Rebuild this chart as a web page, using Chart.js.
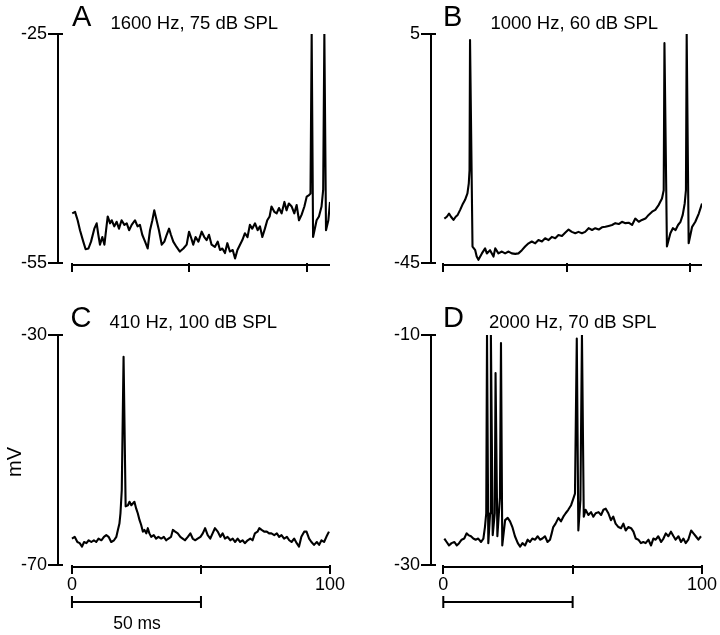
<!DOCTYPE html>
<html>
<head>
<meta charset="utf-8">
<script src="https://cdn.jsdelivr.net/npm/chart.js@4"></script>
<style>
  html, body { margin: 0; padding: 0; background: #fff; }
  #wrap { position: relative; width: 720px; height: 635px; background: #fff; overflow: hidden; }
  canvas { position: absolute; }
  .lbl { position: absolute; white-space: nowrap; line-height: 1; color: #000;
         font-family: 'Liberation Sans', Arial, Helvetica, sans-serif; }
  .letter { font-size: 29px; }
  .ttl { font-size: 18.5px; }
</style>
</head>
<body>
<div id="wrap">
  <canvas id="cA" width="360" height="300" style="left:0;top:0"></canvas>
  <canvas id="cB" width="360" height="300" style="left:360px;top:0"></canvas>
  <canvas id="cC" width="360" height="335" style="left:0;top:300px"></canvas>
  <canvas id="cD" width="360" height="335" style="left:360px;top:300px"></canvas>

  <div class="lbl letter" style="left:72px;top:1.5px">A</div>
  <div class="lbl ttl" style="left:110.5px;top:14px">1600 Hz, 75 dB SPL</div>
  <div class="lbl letter" style="left:443px;top:1.5px">B</div>
  <div class="lbl ttl" style="left:490.5px;top:14px">1000 Hz, 60 dB SPL</div>
  <div class="lbl letter" style="left:70.5px;top:302.5px">C</div>
  <div class="lbl ttl" style="left:109.5px;top:313px">410 Hz, 100 dB SPL</div>
  <div class="lbl letter" style="left:443px;top:302.5px">D</div>
  <div class="lbl ttl" style="left:489px;top:313px">2000 Hz, 70 dB SPL</div>

  <div class="lbl" style="left:14px;top:462px;font-size:20px;transform:translate(-50%,-50%) rotate(-90deg)">mV</div>
  <div class="lbl" style="left:137px;top:615px;font-size:17.5px;transform:translateX(-50%)">50 ms</div>
</div>
<script>
// ---------------- data (time in ms, membrane potential in mV) ----------------
const tA = [0.1,1.3,2.4,3.4,4.8,5.8,7.0,8.1,9.5,10.5,11.2,11.9,12.9,13.8,14.5,15.2,16.2,16.9,18.0,19.0,20.0,21.1,22.3,23.3,24.3,25.4,26.8,27.9,28.9,29.9,31.1,32.2,33.2,34.2,35.0,36.0,37.0,38.2,39.3,40.3,41.3,42.1,43.1,44.5,45.9,47.4,48.8,49.8,50.6,51.6,52.6,53.8,55.2,56.3,57.3,58.3,59.4,60.8,62.0,63.0,64.0,65.1,66.1,67.2,68.4,69.4,70.4,71.5,72.5,73.6,74.7,75.7,76.7,77.9,79.0,80.0,81.0,82.1,83.1,84.1,84.9,86.1,87.1,88.1,89.2,90.4,91.3,92.3,93.5,94.6,95.6,96.6,97.7,98.9,99.9,100.9,101.5,102.0,102.6,104.1,105.1,106.2,106.9,107.4,108.1,109.1,109.8];
const vA = [-48.5,-48.3,-49.4,-50.7,-52.2,-53.2,-53.1,-52.2,-50.5,-49.8,-51.3,-52.6,-51.6,-52.6,-50.7,-48.9,-49.8,-49.4,-50.2,-49.6,-50.5,-49.4,-50.0,-49.8,-50.7,-50.0,-49.4,-50.2,-50.0,-51.3,-52.2,-53.1,-50.7,-49.4,-48.1,-49.4,-50.7,-52.6,-52.2,-51.3,-50.5,-51.3,-52.2,-52.9,-53.5,-53.1,-52.6,-50.9,-51.6,-52.6,-51.6,-52.2,-50.9,-51.6,-52.0,-51.3,-52.6,-52.9,-52.2,-53.3,-53.1,-53.7,-52.4,-53.5,-53.3,-54.4,-53.3,-52.6,-52.0,-51.1,-51.6,-50.0,-50.5,-49.8,-50.7,-50.2,-51.6,-50.5,-49.4,-48.9,-47.6,-48.3,-48.5,-47.8,-48.5,-47.0,-48.1,-47.2,-47.6,-48.5,-47.4,-49.4,-48.7,-47.6,-46.3,-46.1,-45.9,-25.0,-51.6,-49.4,-48.9,-47.6,-45.4,-25.0,-50.7,-49.4,-47.0];

const tB = [0.4,1.4,2.3,3.1,4.1,5.0,5.8,6.8,7.7,8.8,9.75,10.3,10.6,10.8,11.8,12.9,13.5,14.2,15.6,16.9,17.6,18.9,20.3,21.0,22.3,23.7,25.0,26.4,27.7,29.1,30.4,31.8,33.1,34.5,35.8,37.2,38.5,39.9,41.2,42.6,43.9,45.3,46.6,48.0,49.3,50.7,52.0,53.4,54.7,56.1,57.4,58.8,60.2,61.5,62.9,64.2,65.6,66.9,68.3,69.6,71.0,72.3,73.7,75.0,76.4,77.7,79.1,80.4,81.8,83.1,84.5,85.8,87.2,88.5,89.2,89.5,90.5,91.9,92.9,94.0,95.0,96.0,96.9,97.7,98.2,98.5,99.3,100.7,102.0,103.4,104.7];
const vB = [-35.3,-34.9,-34.2,-34.9,-35.6,-34.9,-34.5,-33.4,-32.3,-31.2,-29.8,-27.6,-24.7,3.7,-41.4,-42.2,-43.6,-44.3,-42.9,-41.8,-42.9,-42.2,-43.6,-41.8,-42.9,-42.5,-42.9,-42.5,-42.9,-43.0,-42.9,-42.2,-41.4,-40.7,-40.3,-40.7,-40.0,-40.3,-39.6,-40.0,-39.3,-39.6,-38.9,-39.1,-38.4,-37.7,-38.2,-38.5,-38.2,-38.5,-38.2,-37.4,-37.8,-37.4,-37.7,-37.2,-37.1,-36.9,-36.7,-36.3,-36.5,-36.0,-36.3,-36.2,-36.7,-35.3,-36.0,-35.6,-35.3,-34.5,-33.8,-33.4,-32.3,-30.9,-29.1,3.0,-41.4,-38.5,-37.4,-37.8,-36.7,-36.0,-34.5,-32.0,-29.1,5.0,-40.7,-37.1,-36.0,-34.2,-32.0];

const tC = [0.0,1.05,2.1,3.0,3.9,4.7,5.6,6.5,7.5,8.5,9.4,10.3,11.4,12.4,13.3,14.2,15.2,16.3,17.2,17.8,18.4,18.8,19.3,20.0,20.8,21.7,22.3,23.0,23.6,24.2,24.9,25.5,26.2,26.8,27.5,28.1,28.8,29.4,30.0,30.7,31.7,32.6,33.5,34.6,35.6,36.5,37.4,38.4,39.1,40.0,41.0,42.0,42.9,43.8,44.9,45.9,46.8,47.7,48.7,49.8,50.7,51.6,52.6,53.6,54.5,55.4,56.5,57.5,58.4,59.3,60.3,61.4,62.3,63.2,64.2,65.2,66.1,67.0,68.1,69.1,70.0,70.9,71.9,72.6,73.5,74.5,75.5,76.4,77.3,78.4,79.4,80.3,81.2,82.2,83.3,84.2,85.1,86.1,87.1,88.0,88.9,90.0,90.9,91.9,92.8,93.8,94.9,95.8,96.7,97.7,98.6,99.6];
const vC = [-65.4,-65.1,-66.0,-66.2,-66.8,-66.0,-66.2,-65.7,-66.0,-65.7,-66.0,-65.4,-65.7,-65.1,-64.8,-65.1,-66.0,-65.7,-65.1,-63.9,-62.8,-61.0,-57.0,-33.8,-59.8,-59.6,-59.0,-59.6,-59.3,-59.0,-60.2,-61.0,-62.2,-63.0,-64.2,-63.9,-64.5,-63.6,-64.5,-65.1,-64.8,-65.4,-65.1,-65.4,-65.1,-65.7,-65.4,-65.1,-63.9,-64.2,-64.5,-65.1,-65.4,-65.7,-65.1,-64.5,-65.4,-65.7,-65.4,-65.1,-64.5,-63.6,-64.8,-65.4,-64.5,-63.6,-64.2,-65.1,-64.5,-65.4,-65.1,-65.7,-65.4,-66.0,-65.4,-66.0,-65.7,-66.2,-65.7,-65.4,-65.7,-64.5,-64.2,-63.6,-63.9,-64.2,-64.2,-64.5,-64.5,-64.8,-64.5,-65.1,-64.8,-65.4,-65.1,-65.7,-66.0,-65.4,-66.2,-66.8,-65.1,-64.2,-64.2,-65.4,-66.0,-66.5,-66.0,-66.5,-65.7,-66.0,-65.1,-64.2];

const tD = [0.4,1.3,2.2,3.2,4.3,5.2,6.1,7.1,8.1,9.0,9.7,10.7,11.6,12.5,13.5,14.6,15.5,16.1,16.6,16.9,17.4,18.1,18.4,19.1,19.9,20.2,20.9,21.9,22.3,22.8,23.9,24.9,25.8,26.7,27.7,28.8,29.7,30.6,31.6,32.6,33.5,34.4,35.5,36.5,37.4,38.3,39.3,40.3,41.25,41.9,42.5,43.4,44.5,45.5,46.4,47.3,48.3,49.4,50.3,50.9,51.6,52.2,53.0,53.6,54.3,55.0,56.1,57.1,58.0,58.9,60.0,61.0,61.9,62.8,63.8,64.8,65.7,66.6,67.7,68.7,69.6,70.5,71.5,72.6,73.5,74.4,75.4,76.4,77.3,78.2,79.3,80.3,81.2,82.1,83.1,84.2,85.1,86.0,87.0,88.0,89.0,89.8,90.9,91.9,92.8,93.7,94.7,95.8,96.7,97.6,98.6,99.6];
const vD = [-27.7,-28.0,-28.3,-28.1,-28.0,-28.3,-28.1,-27.8,-27.7,-27.25,-27.4,-27.5,-27.7,-27.8,-27.7,-28.0,-27.7,-26.7,-25.5,-10.0,-28.1,-25.5,-10.0,-27.4,-25.5,-13.3,-27.5,-24.1,-10.7,-28.3,-26.1,-25.9,-26.2,-26.7,-27.5,-28.1,-28.4,-28.1,-28.3,-27.8,-28.0,-27.7,-27.8,-27.5,-27.8,-27.7,-27.5,-28.0,-27.8,-27.25,-26.7,-26.4,-25.9,-26.2,-25.8,-25.5,-25.2,-24.8,-24.2,-23.8,-10.3,-27.0,-24.35,-10.0,-25.8,-25.2,-25.65,-25.4,-25.8,-25.5,-25.4,-25.65,-25.2,-25.1,-25.5,-26.1,-25.8,-26.4,-26.7,-26.8,-26.4,-27.0,-26.7,-26.8,-27.1,-27.7,-27.8,-28.1,-28.0,-28.1,-27.8,-28.3,-27.7,-27.8,-27.5,-28.0,-27.7,-27.25,-27.5,-27.1,-27.5,-27.8,-27.5,-28.0,-27.7,-28.1,-27.8,-27.0,-27.25,-27.5,-27.8,-27.5];

const yRangeA = [-55, -25];
const yRangeB = [-45, 5];
const yRangeC = [-70, -30];
const yRangeD = [-30, -10];
const xTickValues = [0, 50, 100];
const xLabelledTicks = [0, 100];
const scaleBarMs = [0, 50];

// ---------------- drawing ----------------
const FONT = "'Liberation Sans', Arial, Helvetica, sans-serif";
Chart.defaults.font.family = FONT;
Chart.defaults.color = '#000';

const extras = {
  id: 'extras',
  afterDraw(chart, args, opts) {
    const { ctx, chartArea: a, scales: { x, y } } = chart;
    ctx.save();
    ctx.strokeStyle = '#000';
    ctx.lineWidth = 2;
    ctx.lineCap = 'butt';
    // x axis line from first tick to end of record
    const yy = Math.round(a.bottom) + 2;
    ctx.beginPath();
    ctx.moveTo(x.getPixelForValue(xTickValues[0]) - 1, yy);
    ctx.lineTo(x.getPixelForValue(x.max), yy);
    // y tick marks crossing the axis
    y.ticks.forEach(t => {
      const py = Math.round(y.getPixelForValue(t.value));
      ctx.moveTo(a.left, py);
      ctx.lineTo(a.left + 5, py);
    });
    ctx.stroke();
    if (opts.bar) {
      const x0 = x.getPixelForValue(scaleBarMs[0]);
      const x1 = x.getPixelForValue(scaleBarMs[1]);
      const by = Math.round(a.bottom) + 37;
      ctx.beginPath();
      ctx.moveTo(x0, by); ctx.lineTo(x1, by);
      ctx.moveTo(x0, by - 6); ctx.lineTo(x0, by + 6);
      ctx.moveTo(x1, by - 6); ctx.lineTo(x1, by + 6);
      ctx.stroke();
    }
    ctx.restore();
  }
};

function panel(id, t, v, yRange, cfg) {
  const data = t.map((tt, i) => ({ x: tt, y: v[i] }));
  const canvas = document.getElementById(id);
  return new Chart(canvas, {
    type: 'line',
    data: { datasets: [{ data, borderColor: '#000', borderWidth: 2.1, pointRadius: 0, tension: 0, fill: false, borderJoinStyle: 'round' }] },
    options: {
      responsive: false,
      animation: false,
      devicePixelRatio: 1,
      layout: { padding: { top: cfg.padTop, right: cfg.padRight, left: 0, bottom: 0 } },
      plugins: { legend: { display: false }, tooltip: { enabled: false }, extras: { bar: cfg.bar } },
      scales: {
        x: {
          type: 'linear', min: cfg.xMin, max: cfg.xMax, position: 'bottom',
          border: { display: false },
          grid: { display: true, drawOnChartArea: false, drawTicks: true, tickLength: 9, color: '#000', lineWidth: 2 },
          ticks: {
            color: '#000', font: { size: 18, family: FONT }, padding: 0, maxRotation: 0, autoSkip: false,
            callback: (val) => (cfg.labels && xLabelledTicks.includes(val)) ? String(val) : ''
          },
          afterBuildTicks: s => { s.ticks = xTickValues.map(val => ({ value: val })); },
          afterFit: s => { s.height = cfg.xAxisHeight; }
        },
        y: {
          type: 'linear', min: yRange[0], max: yRange[1], position: 'left',
          border: { display: true, color: '#000', width: 2 },
          grid: { display: true, drawOnChartArea: false, drawTicks: true, tickLength: 10, color: '#000', lineWidth: 2 },
          ticks: { color: '#000', font: { size: 18, family: FONT }, padding: 1, autoSkip: false },
          afterBuildTicks: s => { s.ticks = [{ value: yRange[0] }, { value: yRange[1] }]; },
          afterFit: s => { s.width = cfg.yAxisWidth; }
        }
      }
    },
    plugins: [extras]
  });
}

panel('cA', tA, vA, yRangeA, { xMin: -5.96, xMax: 109.8, yAxisWidth: 58, padTop: 34, padRight: 30, xAxisHeight: 37, labels: false, bar: false });
panel('cB', tB, vB, yRangeB, { xMin: -5.0, xMax: 104.7, yAxisWidth: 71, padTop: 34, padRight: 18, xAxisHeight: 37, labels: false, bar: false });
panel('cC', tC, vC, yRangeC, { xMin: -5.41, xMax: 100, yAxisWidth: 58, padTop: 35, padRight: 30, xAxisHeight: 70, labels: true, bar: true });
panel('cD', tD, vD, yRangeD, { xMin: -4.75, xMax: 100, yAxisWidth: 71, padTop: 35, padRight: 18, xAxisHeight: 70, labels: true, bar: true });
</script>
</body>
</html>
